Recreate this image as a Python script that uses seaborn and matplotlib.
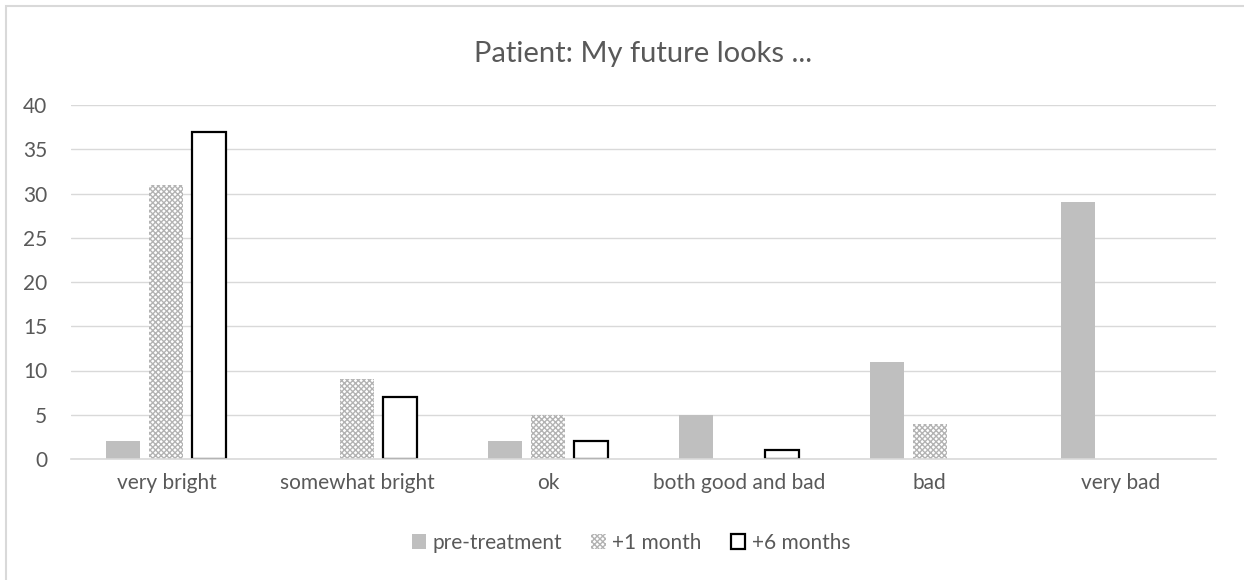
import matplotlib
matplotlib.use("Agg")
import matplotlib.pyplot as plt
import seaborn as sns
import pandas as pd
from matplotlib.patches import Rectangle

# Data
categories = ["very bright", "somewhat bright", "ok", "both good and bad", "bad", "very bad"]
series = ["pre-treatment", "+1 month", "+6 months"]
pre_treatment = [2, 0, 2, 5, 11, 29]
one_month = [31, 9, 5, 0, 4, 0]
six_months = [37, 7, 2, 1, 0, 0]

rows = []
for name, vals in zip(series, [pre_treatment, one_month, six_months]):
    for cat, v in zip(categories, vals):
        rows.append({"category": cat, "series": name, "value": v})
df = pd.DataFrame(rows)

sns.set_style("white")
plt.rcParams["font.family"] = ["Lato", "DejaVu Sans"]
plt.rcParams["hatch.linewidth"] = 1.0
text_color = "#595959"
grid_color = "#d9d9d9"

fig = plt.figure(figsize=(12.44, 5.8), dpi=100)
ax = fig.add_axes([71 / 1244, 1 - 459 / 580, 1145 / 1244, 354 / 580])

sns.barplot(data=df, x="category", y="value", hue="series", order=categories,
            hue_order=series, palette=["#bfbfbf", "white", "white"],
            width=0.676, gap=0.21, ax=ax, legend=False, saturation=1)

# style each series like the original
for cont, name in zip(ax.containers, series):
    for bar in cont:
        if name == "pre-treatment":
            bar.set_facecolor("#bfbfbf")
            bar.set_edgecolor("#bfbfbf")
            bar.set_linewidth(0)
        elif name == "+1 month":
            bar.set_facecolor("white")
            bar.set_edgecolor("#b3b3b3")
            bar.set_hatch("xxxxxx")
            bar.set_linewidth(0)
        else:
            bar.set_facecolor("white")
            bar.set_edgecolor("black")
            bar.set_linewidth(1.6)
        if bar.get_height() == 0:
            bar.set_visible(False)

ax.set_ylim(0, 40)
ax.set_yticks(range(0, 41, 5))
ax.yaxis.grid(True, color=grid_color, linewidth=1)
ax.set_axisbelow(True)
for s in ["left", "right", "top"]:
    ax.spines[s].set_visible(False)
ax.spines["bottom"].set_color(grid_color)
ax.spines["bottom"].set_linewidth(1.2)
ax.tick_params(axis="both", length=0, labelsize=15, colors=text_color)
ax.tick_params(axis="x", pad=10)
ax.tick_params(axis="y", pad=17)
ax.set_xlabel("")
ax.set_ylabel("")
ax.set_xlim(-0.5, len(categories) - 0.5)

fig.text(0.5 + 0.5 * (71 + 1216 - 1244) / 1244, 1 - 62 / 580, "Patient: My future looks ...",
         ha="center", va="baseline", fontsize=21, color=text_color)

handles = [
    Rectangle((0, 0), 1, 1, facecolor="#bfbfbf", edgecolor="none"),
    Rectangle((0, 0), 1, 1, facecolor="white", edgecolor="#b3b3b3", hatch="xxxxxx", linewidth=0),
    Rectangle((0, 0), 1, 1, facecolor="white", edgecolor="black", linewidth=1.6),
]
fig.legend(handles, series, loc="center", bbox_to_anchor=(631 / 1244, 1 - 543 / 580), ncol=3,
           frameon=False, fontsize=15, labelcolor=text_color, handlelength=0.7,
           handleheight=0.7, handletextpad=0.3, columnspacing=1.4)

fig.patches.append(Rectangle((6 / 1244, -0.05), 1.2, 1 - 6 / 580 + 0.05, transform=fig.transFigure,
                             fill=False, edgecolor=grid_color, linewidth=1.5))

fig.savefig("out.png", dpi=100)
